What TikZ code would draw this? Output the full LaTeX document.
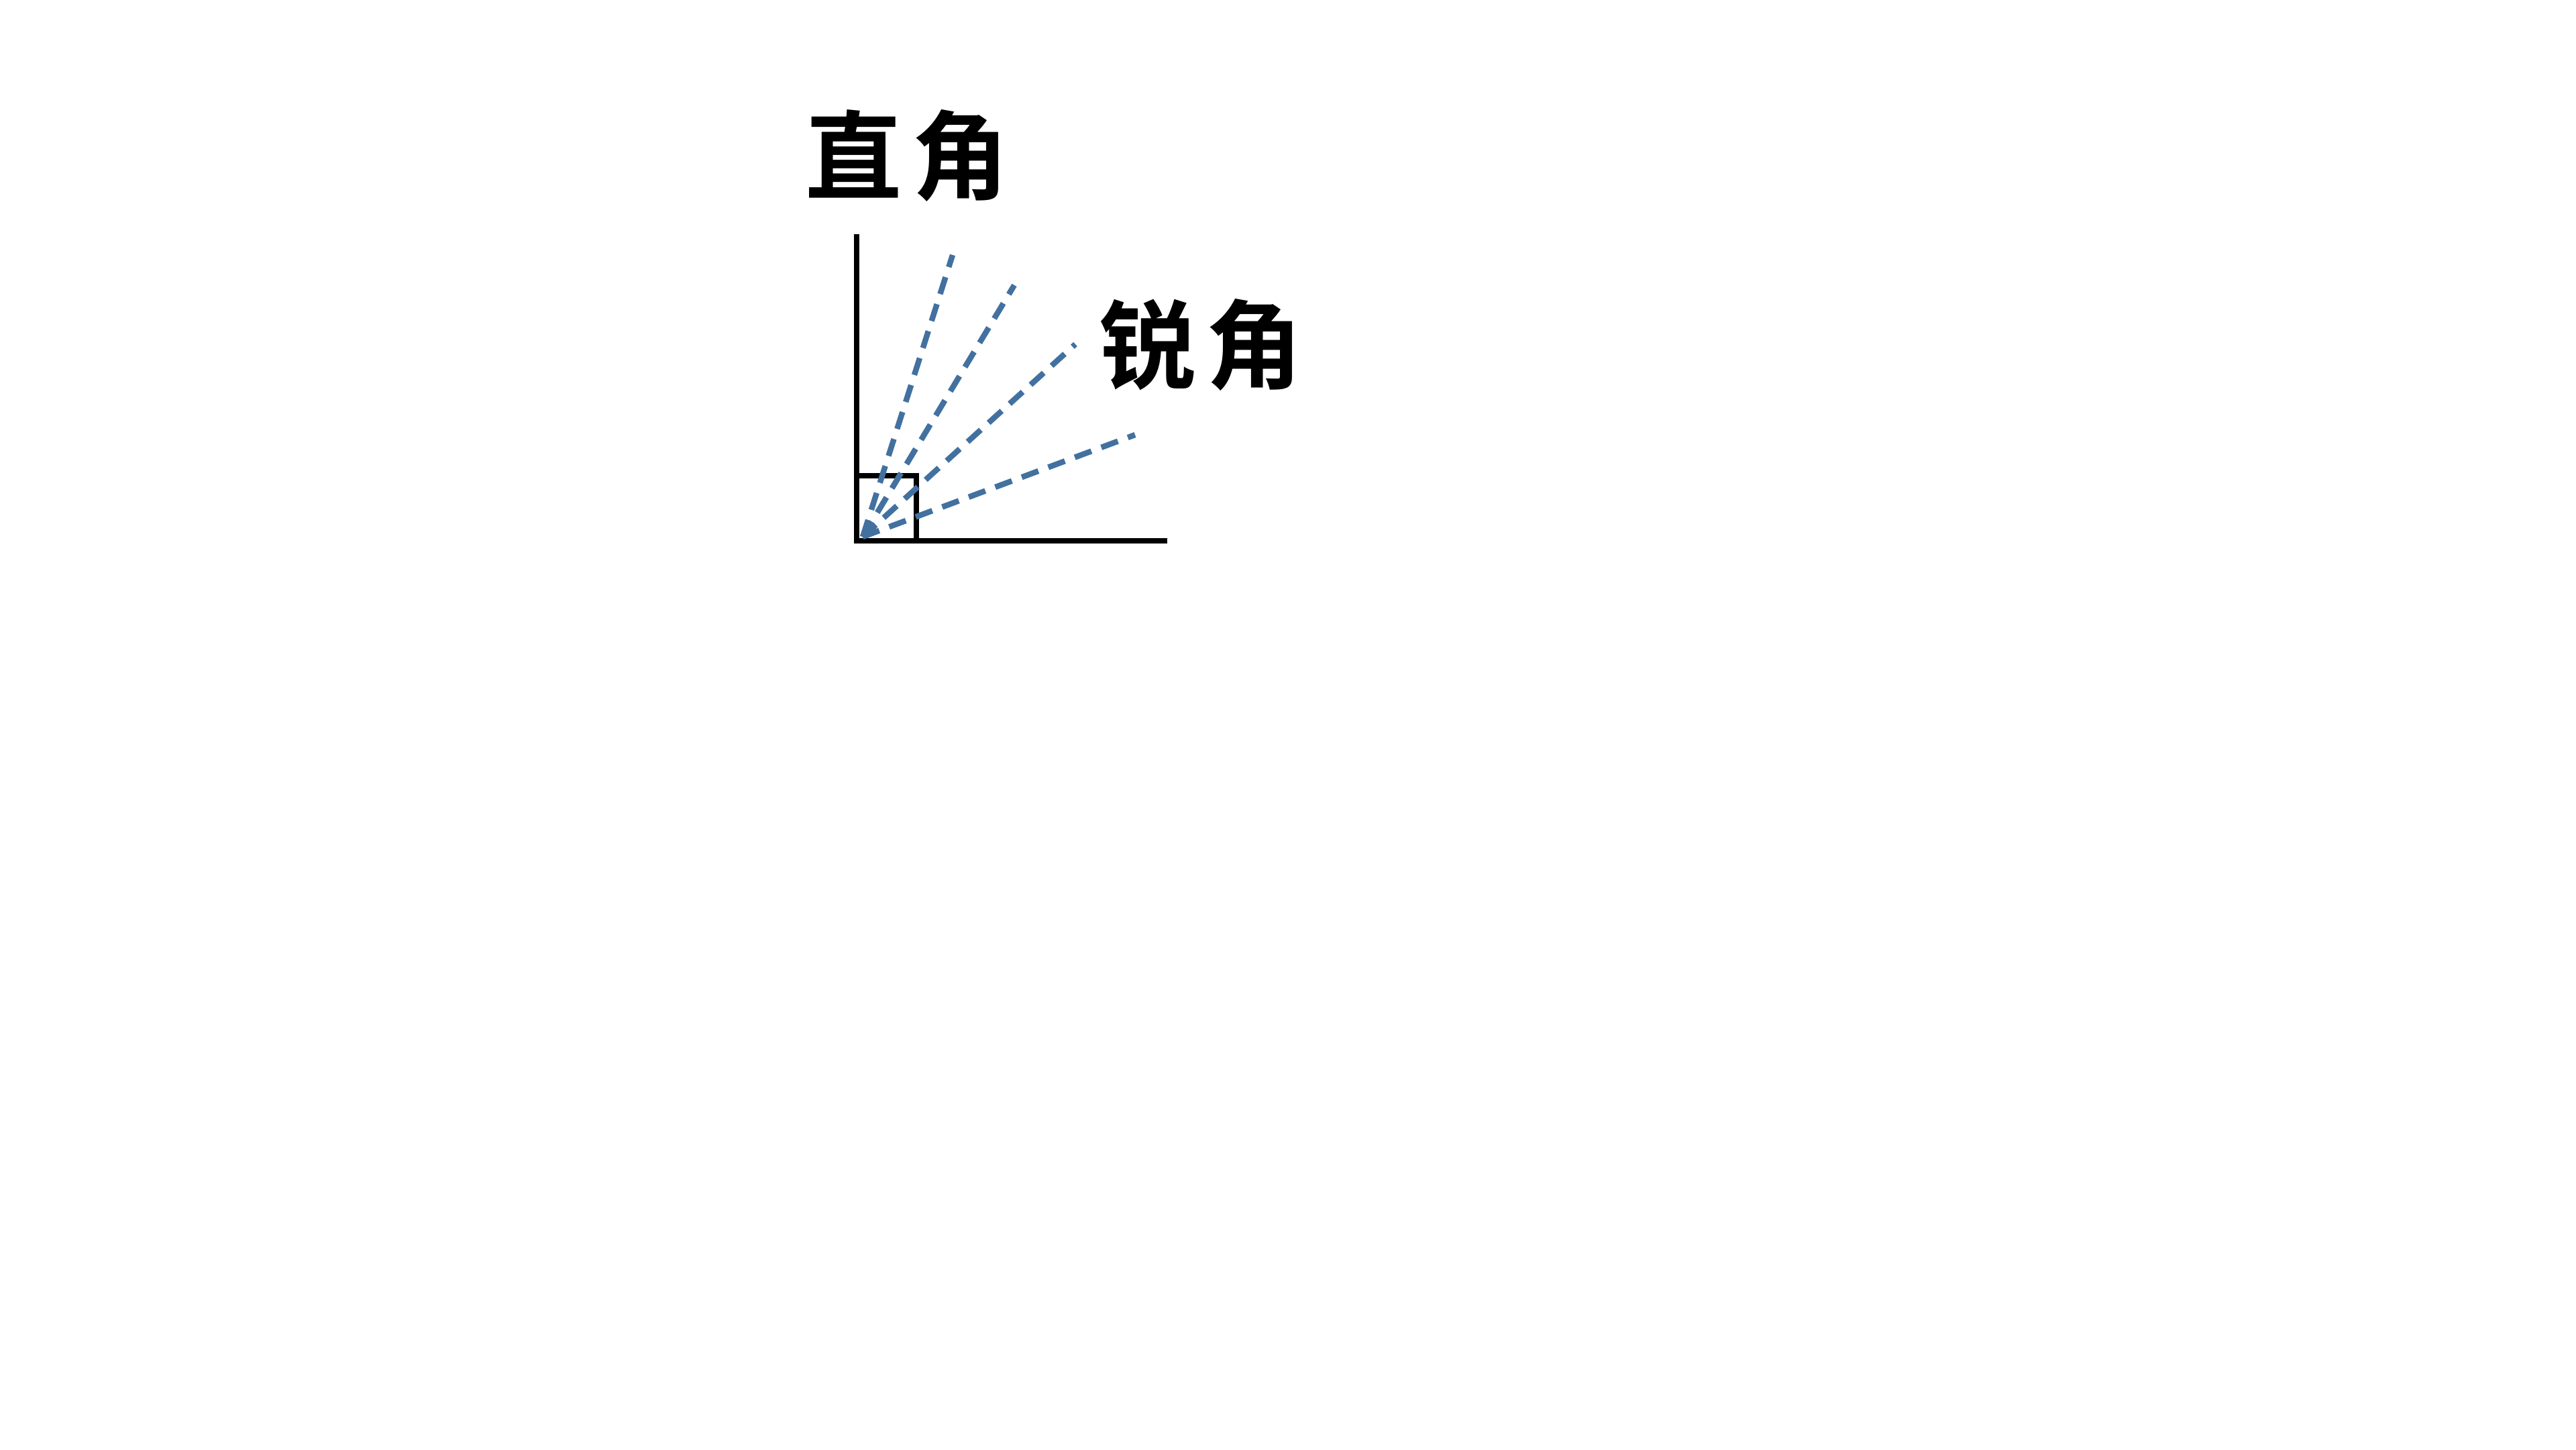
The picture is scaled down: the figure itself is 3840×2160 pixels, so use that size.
\documentclass[tikz,border=0pt]{standalone}
\usepackage{fontspec}
\newfontfamily\cjk{Noto Sans CJK SC}[BoldFont={Noto Sans CJK SC Bold}]
\usepackage{tikz}
\usetikzlibrary{calc, positioning}
\usepackage{xcolor}
\definecolor{rayBlue}{HTML}{4271A0}
\tikzstyle{anglabel} = [%
  inner sep=0pt,
  anchor=center,
  text=black,
  font=\cjk\bfseries\fontsize{41}{41}\selectfont
]

\begin{document}
\begin{tikzpicture}[%
  x=0.01cm, y=-0.01cm,
  leg/.style={%
    draw=black,
    line width=2.3pt,
    line join=miter
  },
  ray/.style={%
    draw=rayBlue,
    line width=2.4pt,
    dash pattern=on 7.5pt off 4.5pt
  }
]
  \useasboundingbox (0,0) rectangle (3840,2160);

  % Points
  \coordinate (O) at (1277,806);
  \coordinate (Top) at (1277,349);
  \coordinate (End) at (1740,806);
  \coordinate (Sq) at (1366,709);
  \coordinate (R0) at (1286,800);
  \coordinate (R1) at (1420,380);
  \coordinate (R2) at (1512,425);
  \coordinate (R3) at (1603,513);
  \coordinate (R4) at (1692,648);

  % Labels
  \node[anglabel] (right) at (1352,232) {直\hspace{0.1em}角};
  \node[anglabel] (acute) at (1790,514) {锐\hspace{0.1em}角};

  % Right angle
  \draw[leg] (Top) -- (O) -- (End);
  \draw[leg] (O) rectangle (Sq);

  % Acute rays
  \draw[ray] (R0) -- (R1);
  \draw[ray] (R0) -- (R2);
  \draw[ray] (R0) -- (R3);
  \draw[ray] (R0) -- (R4);

\end{tikzpicture}
\end{document}
